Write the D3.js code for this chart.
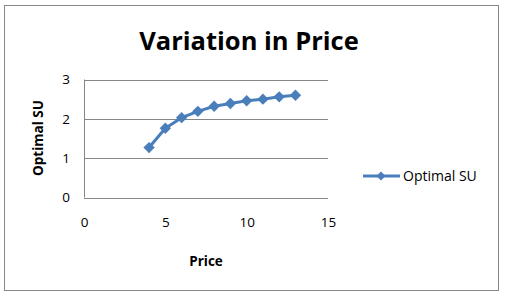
<!DOCTYPE html>
<html><head><meta charset="utf-8">
<script src="https://cdn.jsdelivr.net/npm/d3@7"></script>
<style>body{margin:0;background:#fff}svg{display:block}</style>
</head><body>
<script>
const prices = [4,5,6,7,8,9,10,11,12,13];
const optimalSU = [1.27,1.76,2.03,2.19,2.32,2.39,2.46,2.50,2.56,2.60];
const xTicks = [0,5,10,15];
const yTicks = [0,1,2,3];
const title = "Variation in Price";
const xLabel = "Price";
const yLabel = "Optimal SU";
const seriesName = "Optimal SU";

const W=505,H=296;
const svg=d3.select("body").append("svg").attr("width",W).attr("height",H);
svg.append("rect").attr("x",4.5).attr("y",5.5).attr("width",494).attr("height",285)
  .attr("fill","#fff").attr("stroke","#888").attr("stroke-width",1);

const x=d3.scaleLinear().domain([0,15]).range([84,328]);
const y=d3.scaleLinear().domain([0,3]).range([197.5,79.5]);
const font="'Open Sans', Calibri, sans-serif";

svg.append("text").attr("x",249).attr("y",50).attr("text-anchor","middle")
  .attr("font-family",font).attr("font-weight","bold").attr("font-size",25.5).text(title);

// gridlines
svg.append("g").selectAll("line").data(yTicks).join("line")
  .attr("x1",x(0)).attr("x2",x(15)).attr("y1",d=>Math.round(y(d))+0.5).attr("y2",d=>Math.round(y(d))+0.5)
  .attr("stroke","#868686").attr("stroke-width",1);
svg.append("line").attr("x1",x(0)+0.5).attr("x2",x(0)+0.5).attr("y1",y(3)).attr("y2",y(0))
  .attr("stroke","#868686");

const yAxis=d3.axisLeft(y).tickValues(yTicks).tickFormat(d3.format("d")).tickSize(0).tickPadding(14);
const gy=svg.append("g").attr("transform",`translate(${x(0)},0)`).call(yAxis);
gy.select(".domain").remove();
gy.selectAll("text").attr("font-family",font).attr("font-size",13.5).attr("fill","#000");

const xAxis=d3.axisBottom(x).tickValues(xTicks).tickFormat(d3.format("d")).tickSize(0).tickPadding(20);
const gx=svg.append("g").attr("transform",`translate(0,${y(0)})`).call(xAxis);
gx.select(".domain").remove();
gx.selectAll("text").attr("font-family",font).attr("font-size",13.5).attr("fill","#000");

svg.append("text").attr("x",206).attr("y",266).attr("text-anchor","middle")
  .attr("font-family",font).attr("font-weight","bold").attr("font-size",13.5).text(xLabel);
svg.append("text").attr("transform","translate(43,138) rotate(-90)").attr("text-anchor","middle")
  .attr("font-family",font).attr("font-weight","bold").attr("font-size",13.5).text(yLabel);

const data=prices.map((p,i)=>({p,v:optimalSU[i]}));
const color="#4A7EBB";
svg.append("path").datum(data).attr("fill","none").attr("stroke",color).attr("stroke-width",3)
  .attr("stroke-linejoin","round")
  .attr("d",d3.line().x(d=>x(d.p)).y(d=>y(d.v)));
svg.append("g").selectAll("path").data(data).join("path")
  .attr("transform",d=>`translate(${x(d.p)},${y(d.v)}) rotate(45)`)
  .attr("d",d3.symbol().type(d3.symbolSquare).size(64)).attr("fill",color);

// legend
svg.append("line").attr("x1",363).attr("x2",400).attr("y1",176).attr("y2",176)
  .attr("stroke",color).attr("stroke-width",3);
svg.append("path").attr("transform","translate(381,176) rotate(45)")
  .attr("d",d3.symbol().type(d3.symbolSquare).size(40)).attr("fill",color);
svg.append("text").attr("x",403).attr("y",181).attr("font-family",font).attr("font-size",14)
  .text(seriesName);
</script>
</body></html>
